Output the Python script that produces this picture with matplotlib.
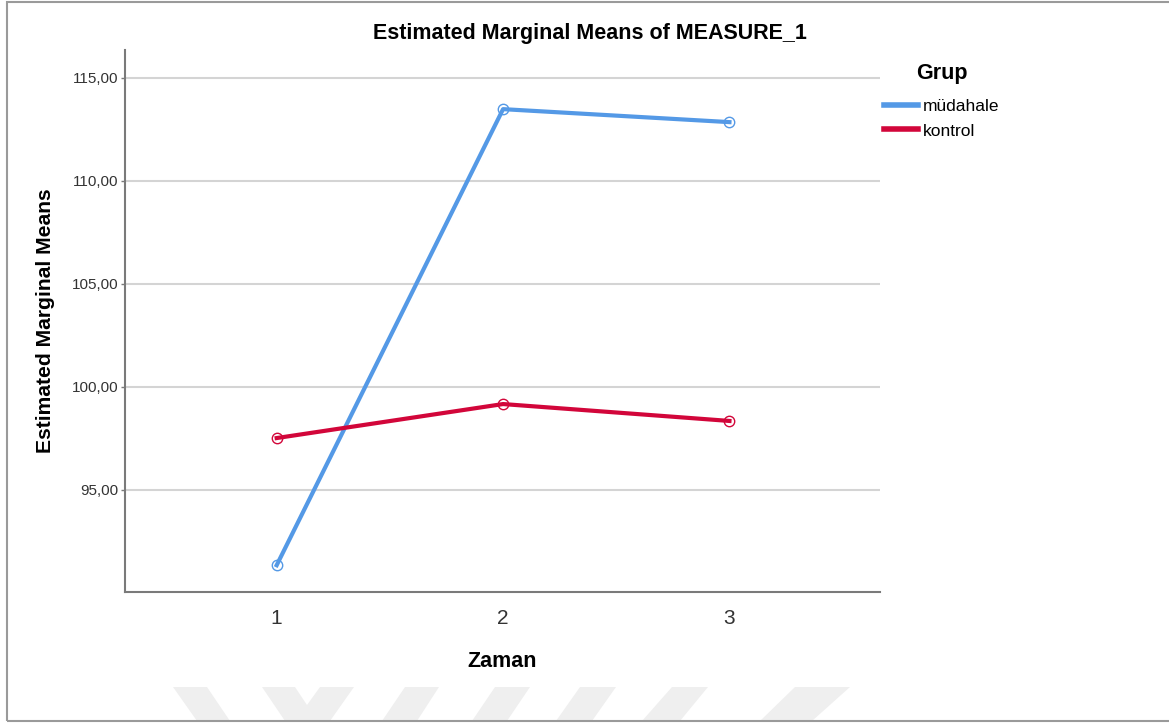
import matplotlib
matplotlib.use("Agg")
import matplotlib.pyplot as plt
from matplotlib.patches import Rectangle, Polygon
from matplotlib.ticker import FuncFormatter

plt.rcParams['font.family'] = ['Liberation Sans', 'DejaVu Sans']

# Data
time_points = [1, 2, 3]
mudahale = [91.35, 113.48, 112.85]
kontrol = [97.52, 99.17, 98.35]
y_ticks = [95, 100, 105, 110, 115]
group_names = ["müdahale", "kontrol"]

W, H = 1169, 724
fig = plt.figure(figsize=(W / 100, H / 100), dpi=100)
fig.patch.set_facecolor('white')

# faint watermark chevrons at the bottom (pixel coords -> figure coords)
wm_shapes = [
    [(173, 687), (207, 687), (230, 721), (197, 721)],
    [(262, 687), (295, 687), (307, 705), (320, 687), (354, 687), (330, 721), (285, 721)],
    [(405, 687), (439, 687), (417, 721), (382, 721)],
    [(495, 687), (530, 687), (507, 721), (472, 721)],
    [(580, 687), (616, 687), (592, 721), (556, 721)],
    [(672, 687), (708, 687), (680, 721), (642, 721)],
    [(795, 687), (850, 687), (812, 721), (760, 721)],
]
for shp in wm_shapes:
    pts = [(x / W, 1 - y / H) for x, y in shp]
    fig.patches.append(Polygon(pts, closed=True, transform=fig.transFigure,
                               facecolor='#efefef', edgecolor='none', zorder=0))

# border
fig.patches.append(Rectangle((7 / W, 1 - 721 / H), (W + 5 - 7) / W, (721 - 2) / H,
                             transform=fig.transFigure, fill=False,
                             edgecolor='#9a9a9a', linewidth=1.5, zorder=1))

ax = fig.add_axes([125 / W, 1 - 592 / H, (880 - 125) / W, (592 - 50) / H])
ax.set_facecolor('none')

blue = '#5499E6'
red = '#D2063A'
ax.plot(time_points, mudahale, color=blue, lw=3.0, marker='o', ms=7.5,
        mfc='none', mec=blue, mew=1.0, label=group_names[0], zorder=3)
ax.plot(time_points, kontrol, color=red, lw=3.0, marker='o', ms=7.5,
        mfc='none', mec=red, mew=1.0, label=group_names[1], zorder=3)

ax.set_xlim(0.33, 3.665)
ax.set_ylim(90.05, 116.35)
ax.set_yticks(y_ticks)
ax.yaxis.set_major_formatter(FuncFormatter(lambda v, p: f"{v:.2f}".replace('.', ',')))
ax.set_xticks(time_points)
ax.set_xticklabels([str(t) for t in time_points])

ax.grid(axis='y', color='#d4d4d4', lw=1.5, zorder=1)
ax.set_axisbelow(True)
for s in ['top', 'right']:
    ax.spines[s].set_visible(False)
for s in ['left', 'bottom']:
    ax.spines[s].set_color('#7a7a7a')
    ax.spines[s].set_linewidth(1.5)

ax.tick_params(axis='y', length=3, width=1, color='#7a7a7a', labelsize=11,
               labelcolor='#333333', pad=1.5)
ax.tick_params(axis='x', length=0, labelsize=15, labelcolor='#333333', pad=12)

ax.set_xlabel('Zaman', fontsize=15.5, fontweight='bold', labelpad=17)
ax.set_ylabel('Estimated Marginal Means', fontsize=15.2, fontweight='bold', labelpad=12)
fig.text(590 / W, 1 - 33 / H, 'Estimated Marginal Means of MEASURE_1', fontsize=15.5,
         fontweight='bold', ha='center', va='center')

fig.text(916 / W, 1 - 73 / H, 'Grup', fontsize=15.5, fontweight='bold',
         ha='left', va='center')
leg = fig.legend(loc='upper left', bbox_to_anchor=(884 / W, 1 - 99 / H),
                 bbox_transform=fig.transFigure, frameon=False,
                 fontsize=12.5, handlelength=1.95, handletextpad=0.3,
                 labelspacing=0.53, borderpad=0, borderaxespad=0)
for h in leg.legend_handles:
    h.set_marker('')
    h.set_linewidth(4)

fig.savefig('out.png', dpi=100, facecolor='white')
